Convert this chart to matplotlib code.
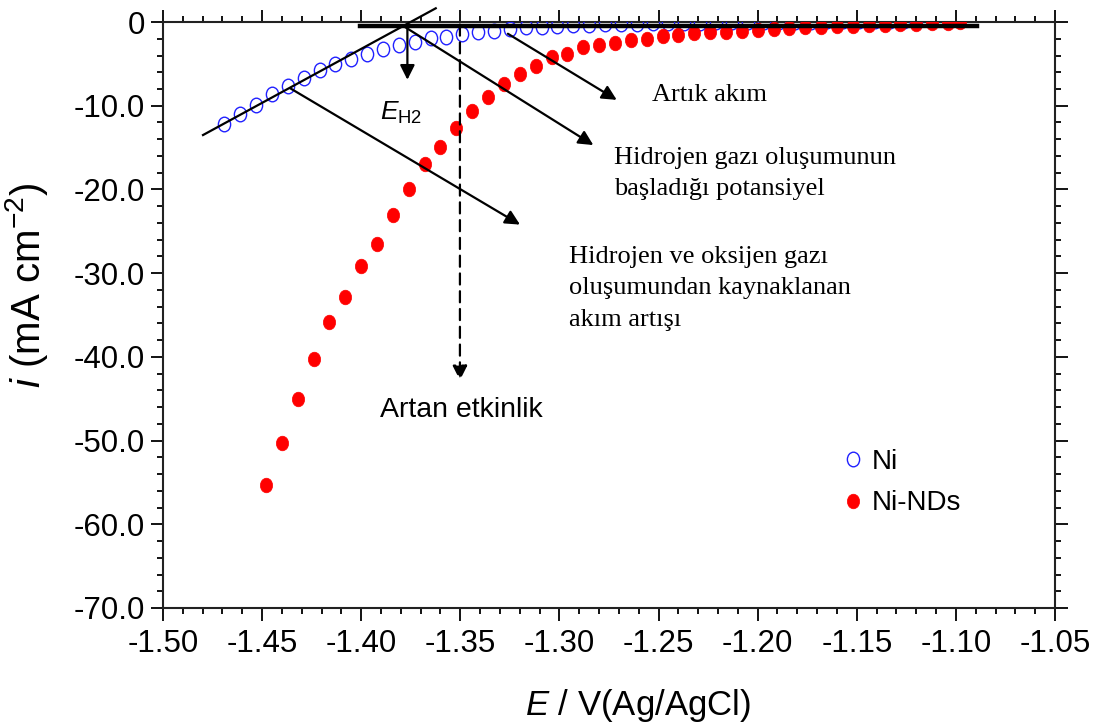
import matplotlib
matplotlib.use("Agg")
from matplotlib import pyplot as plt
from matplotlib.path import Path
from matplotlib.transforms import Affine2D
from matplotlib.ticker import MultipleLocator

# Ni (open blue circles)
ni_E = [-1.469, -1.461, -1.453, -1.445, -1.437, -1.429, -1.421, -1.413, -1.405,
        -1.397, -1.389, -1.381, -1.373, -1.365, -1.357, -1.349, -1.341, -1.333,
        -1.325, -1.317, -1.309, -1.301, -1.293, -1.285, -1.277, -1.269, -1.261,
        -1.253, -1.245, -1.237, -1.229, -1.221, -1.213, -1.205, -1.197, -1.189,
        -1.181, -1.173, -1.165, -1.157, -1.149, -1.141, -1.133, -1.126, -1.120]
ni_i = [-12.2, -11.0, -9.9, -8.6, -7.7, -6.7, -5.7, -5.05, -4.45,
        -3.8, -3.2, -2.8, -2.35, -1.95, -1.75, -1.47, -1.23, -1.04,
        -0.84, -0.63, -0.56, -0.44, -0.36, -0.34, -0.24, -0.2, -0.18,
        -0.15, -0.12, -0.1, -0.08, -0.05, -0.02, 0.0, 0.02, 0.04,
        0.05, 0.06, 0.07, 0.08, 0.09, 0.1, 0.1, 0.11, 0.12]

# Ni-NDs (filled red circles)
nds_E = [-1.448, -1.440, -1.432, -1.424, -1.416, -1.408, -1.400, -1.392, -1.384,
         -1.376, -1.368, -1.360, -1.352, -1.344, -1.336, -1.328, -1.320, -1.312,
         -1.304, -1.296, -1.288, -1.280, -1.272, -1.264, -1.256, -1.248, -1.240,
         -1.232, -1.224, -1.216, -1.208, -1.200, -1.192, -1.184, -1.176, -1.168,
         -1.160, -1.152, -1.144, -1.136, -1.128, -1.120, -1.112, -1.104, -1.098]
nds_i = [-55.3, -50.3, -45.0, -40.3, -35.8, -32.9, -29.1, -26.5, -23.1,
         -19.95, -17.0, -14.9, -12.6, -10.6, -9.0, -7.4, -6.2, -5.2,
         -4.2, -3.8, -3.0, -2.7, -2.55, -2.15, -2.0, -1.67, -1.55,
         -1.35, -1.2, -1.2, -1.07, -0.96, -0.88, -0.76, -0.63, -0.55,
         -0.48, -0.42, -0.38, -0.33, -0.28, -0.22, -0.17, -0.12, -0.05]

x_ticks = [-1.50, -1.45, -1.40, -1.35, -1.30, -1.25, -1.20, -1.15, -1.10, -1.05]
x_labels = ["-1.50", "-1.45", "-1.40", "-1.35", "-1.30", "-1.25", "-1.20", "-1.15", "-1.10", "-1.05"]
y_ticks = [-70, -60, -50, -40, -30, -20, -10, 0]
y_labels = ["-70.0", "-60.0", "-50.0", "-40.0", "-30.0", "-20.0", "-10.0", "0"]


def main():
    plt.rcParams['font.family'] = ['Liberation Sans', 'DejaVu Sans']
    plt.rcParams['mathtext.fontset'] = 'custom'
    plt.rcParams['mathtext.rm'] = 'Liberation Sans'
    plt.rcParams['mathtext.it'] = 'Liberation Sans:italic'

    fig = plt.figure(figsize=(10.96, 7.27), dpi=100)
    ax = fig.add_axes([0.1487, 0.1637, 0.8139, 0.806])

    # slightly tall ellipse marker like the original
    ell = Path.unit_circle().transformed(Affine2D().scale(0.84, 1.0))

    ax.plot(ni_E, ni_i, ls='none', marker=ell, ms=10.5, mfc='none',
            mec='#2020ff', mew=1.0, label='Ni', zorder=3)
    ax.plot(nds_E, nds_i, ls='none', marker=ell, ms=10.5, mfc='#ff0000',
            mec='#ff0000', mew=0.5, label='Ni-NDs', zorder=3)

    ax.set_xlim(-1.50, -1.05)
    ax.set_ylim(-70, 0)
    ax.set_xticks(x_ticks)
    ax.set_xticklabels(x_labels)
    ax.set_yticks(y_ticks)
    ax.set_yticklabels(y_labels)
    ax.xaxis.set_minor_locator(MultipleLocator(0.01))
    ax.yaxis.set_minor_locator(MultipleLocator(2))
    ax.tick_params(which='both', direction='out', top=True, right=True,
                   width=1.3, labelsize=22.5)
    ax.tick_params(which='major', length=9)
    ax.tick_params(which='minor', length=4.5)
    ax.tick_params(axis='x', pad=6)
    ax.tick_params(axis='y', pad=4)
    for sp in ax.spines.values():
        sp.set_linewidth(1.5)
        sp.set_color('#222222')

    ax.set_xlabel('$E$ / V(Ag/AgCl)', fontsize=25)
    ax.xaxis.set_label_coords(0.5325, -0.135)
    ax.set_ylabel('$i$ (mA cm$^{-2}$)', fontsize=29)
    ax.yaxis.set_label_coords(-0.127, 0.551)

    # tangent lines
    ax.plot([-1.4798, -1.3624], [-13.5, 1.64], color='k', lw=1.6, clip_on=False, zorder=4)
    ax.plot([-1.4006, -1.0893], [-0.45, -0.45], color='k', lw=3.2, clip_on=False, zorder=4)

    arr = dict(arrowstyle='-|>', color='k', lw=1.6, mutation_scale=22, shrinkA=0, shrinkB=0)
    ax.annotate('', xy=(-1.3767, -6.9), xytext=(-1.3767, -0.5), arrowprops=arr)
    ax.annotate('', xy=(-1.2711, -9.3), xytext=(-1.3260, -1.4), arrowprops=arr)
    ax.annotate('', xy=(-1.2829, -14.7), xytext=(-1.3779, -0.6), arrowprops=arr)
    ax.annotate('', xy=(-1.3199, -24.2), xytext=(-1.4359, -7.9), arrowprops=arr)
    arr_d = dict(arrowstyle='-|>', color='k', lw=1.6, mutation_scale=22, shrinkA=0,
                 shrinkB=0, linestyle=(0, (5, 3)))
    ax.annotate('', xy=(-1.3502, -42.8), xytext=(-1.3502, -0.3), arrowprops=arr_d)

    ax.text(-1.3799, -10.8, '$E_{\\mathrm{H2}}$', fontsize=19, ha='center', va='center')
    ax.text(-1.3497, -46.3, 'Artan etkinlik', fontsize=20.5, ha='center', va='center')

    serif = ['Liberation Serif', 'DejaVu Serif']
    ax.text(-1.2533, -8.7, 'Artık akım', fontsize=19, family=serif, ha='left', va='center')
    ax.text(-1.2725, -18.1, 'Hidrojen gazı oluşumunun\nbaşladığı potansiyel', fontsize=19,
            family=serif, ha='left', va='center', linespacing=1.55)
    ax.text(-1.2952, -31.8, 'Hidrojen ve oksijen gazı\noluşumundan kaynaklanan\nakım artışı',
            fontsize=19, family=serif, ha='left', va='center', linespacing=1.55)

    ax.legend(loc='upper left', bbox_to_anchor=(0.749, 0.29), frameon=False, fontsize=20,
              handlelength=0.8, handletextpad=0.25, labelspacing=0.55, numpoints=1,
              borderaxespad=0, markerscale=1.0)

    fig.savefig('out.png', dpi=100)


if __name__ == '__main__':
    main()
